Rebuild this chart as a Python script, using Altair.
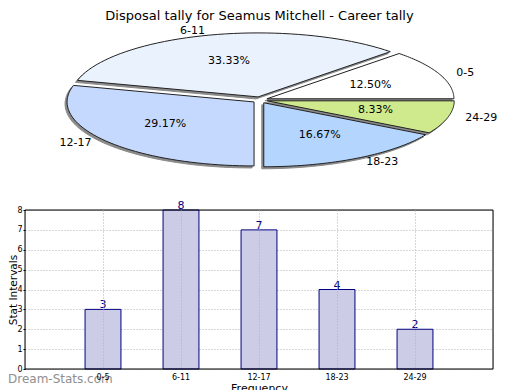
import altair as alt
import pandas as pd

title_text = "Disposal tally for Seamus Mitchell - Career tally"
categories = ["0-5", "6-11", "12-17", "18-23", "24-29"]
counts = [3, 8, 7, 4, 2]
pie_colors = ["#ffffff", "#eaf2fe", "#c5d9fe", "#b4d5fe", "#cfea8c"]
y_ticks = [0, 1, 2, 3, 4, 5, 6, 7, 8]
watermark = "Dream-Stats.com"

df = pd.DataFrame({"cat": categories, "count": counts, "idx": list(range(len(categories)))})
wm_df = pd.DataFrame({"t": [watermark]})
title_df = pd.DataFrame({"t": [title_text]})

# pie geometry, in pixels relative to the bar plot's origin
OX, OY = 25, 210
CX, CY = 260 - OX, 100 - OY
RX, RY = 187, 64
EXP_X, EXP_Y = 7.5, 3.2
N = 48
FONT = "DejaVu Sans"
W, H = 468, 159

base_pie = (
    alt.Chart(df)
    .transform_window(cum="sum(count)", sort=[alt.SortField("idx")])
    .transform_joinaggregate(total="sum(count)")
    .transform_calculate(
        a0="2*PI*(datum.cum - datum.count)/datum.total",
        a1="2*PI*datum.cum/datum.total",
    )
    .transform_calculate(mid="(datum.a0 + datum.a1)/2")
    .transform_calculate(
        ox=f"{CX} + {EXP_X}*cos(datum.mid)",
        oy=f"{CY} - {EXP_Y}*sin(datum.mid)",
        pct="format(datum.count/datum.total, '.2%')",
    )
)

poly = (
    base_pie.transform_calculate(step=f"sequence(-1, {N + 2})")
    .transform_flatten(["step"])
    .transform_calculate(
        onarc=f"datum.step >= 0 && datum.step <= {N}",
        ang=f"datum.a0 + (datum.a1 - datum.a0)*clamp(datum.step, 0, {N})/{N}",
    )
    .transform_calculate(
        px=f"datum.ox + (datum.onarc ? {RX}*cos(datum.ang) : 0)",
        py=f"datum.oy - (datum.onarc ? {RY}*sin(datum.ang) : 0)",
    )
    .transform_calculate(sx="datum.px - 2", sy="datum.py + 2")
)

shadow = poly.mark_line(fill="#8a8a8a", stroke="#8a8a8a", strokeWidth=1).encode(
    x=alt.X("sx:Q", scale=None, axis=None),
    y=alt.Y("sy:Q", scale=None, axis=None),
    fill=alt.value("#8a8a8a"),
    detail="cat:N",
    order="step:Q",
)

slices = poly.mark_line(stroke="#222222", strokeWidth=1).encode(
    x=alt.X("px:Q", scale=None, axis=None),
    y=alt.Y("py:Q", scale=None, axis=None),
    fill=alt.Fill("cat:N", scale=alt.Scale(domain=categories, range=pie_colors), legend=None),
    detail="cat:N",
    order="step:Q",
)

pct_labels = (
    base_pie.transform_calculate(
        tx="datum.ox + 112*cos(datum.mid)", ty="datum.oy - 37*sin(datum.mid)"
    )
    .mark_text(font=FONT, fontSize=11, color="black", baseline="middle")
    .encode(x=alt.X("tx:Q", scale=None, axis=None), y=alt.Y("ty:Q", scale=None, axis=None), text="pct:N")
)

lab_base = base_pie.transform_calculate(
    lx="datum.ox + 205*cos(datum.mid)", ly="datum.oy - 68*sin(datum.mid)"
)
cat_right = (
    lab_base.transform_filter("cos(datum.mid) >= 0")
    .mark_text(font=FONT, fontSize=11, color="black", baseline="middle", align="left")
    .encode(x=alt.X("lx:Q", scale=None, axis=None), y=alt.Y("ly:Q", scale=None, axis=None), text="cat:N")
)
cat_left = (
    lab_base.transform_filter("cos(datum.mid) < 0")
    .mark_text(font=FONT, fontSize=11, color="black", baseline="middle", align="right")
    .encode(x=alt.X("lx:Q", scale=None, axis=None), y=alt.Y("ly:Q", scale=None, axis=None), text="cat:N")
)

# bar chart
xscale = alt.Scale(paddingInner=0.54, paddingOuter=0.77)
yscale = alt.Scale(domain=[0, 8], nice=False, zero=True)
xaxis = alt.Axis(
    title="Frequency",
    labelAngle=0,
    bandPosition=0.5,
    grid=True,
    gridColor="#b0b0b0",
    gridDash=[1, 2],
    domain=False,
    ticks=False,
    labelFont=FONT,
    labelFontSize=8,
    labelColor="black",
    labelPadding=4,
    titleFont=FONT,
    titleFontSize=11,
    titleFontWeight="normal",
    titleColor="black",
    titlePadding=1,
    zindex=1,
)
yaxis = alt.Axis(
    title="Stat Intervals",
    values=y_ticks,
    tickMinStep=1,
    labelOverlap=False,
    grid=True,
    gridColor="#b0b0b0",
    gridDash=[1, 2],
    domain=False,
    tickSize=2,
    tickColor="black",
    labelFont=FONT,
    labelFontSize=8,
    labelColor="black",
    labelPadding=1,
    titleFont=FONT,
    titleFontSize=10.5,
    titleFontWeight="normal",
    titleColor="black",
    titleBaseline="alphabetic",
    titleX=-9,
    titleY=H / 2,
)

bars = alt.Chart(df).mark_bar(fill="#ccccE6", stroke="#000080", strokeWidth=1).encode(
    x=alt.X("cat:N", sort=categories, scale=xscale, axis=xaxis),
    y=alt.Y("count:Q", scale=yscale, axis=yaxis),
)
bar_text = alt.Chart(df).mark_text(
    font=FONT, fontSize=11, color="#000080", baseline="bottom", dy=1
).encode(
    x=alt.X("cat:N", sort=categories, scale=xscale, axis=xaxis),
    y=alt.Y("count:Q", scale=yscale, axis=yaxis),
    text="count:Q",
)
bar_layer = alt.layer(bars, bar_text)

frame = alt.Chart(wm_df).mark_rect(fillOpacity=0, stroke="black", strokeWidth=1).encode(
    x=alt.value(0), x2=alt.value(W), y=alt.value(0), y2=alt.value(H)
)

wm = alt.Chart(wm_df).mark_text(
    font=FONT, fontSize=12, fontWeight="normal", color="#8f8f8f", align="left", baseline="alphabetic"
).encode(x=alt.value(-17), y=alt.value(173), text="t:N")

title = alt.Chart(title_df).mark_text(
    font=FONT, fontSize=13, color="black", align="center", baseline="alphabetic"
).encode(x=alt.value(234.5), y=alt.value(-190), text="t:N")

chart = (
    alt.layer(bar_layer, frame, wm, shadow, slices, pct_labels, cat_right, cat_left, title)
    .resolve_axis(x="independent", y="independent")
    .properties(
        width=W,
        height=H,
        autosize=alt.AutoSizeParams(type="none"),
        padding={"left": 17, "top": 202, "right": 19, "bottom": 21},
    )
    .configure_view(stroke=None)
    .configure(background="white")
)

chart.save("out.html", embed_options={"renderer": "svg", "actions": False})
